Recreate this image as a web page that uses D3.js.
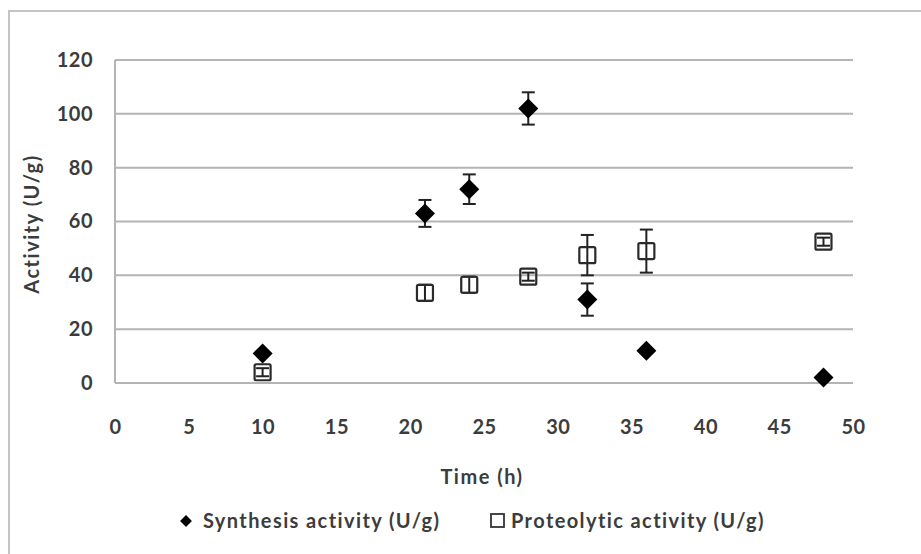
<!DOCTYPE html>
<html>
<head>
<meta charset="utf-8">
<script src="https://cdn.jsdelivr.net/npm/d3@7"></script>
<style>
  body { margin: 0; background: #fff; }
  text { font-family: Lato, "Open Sans", sans-serif; fill: #3c3c3c; font-weight: bold; }
</style>
</head>
<body>
<div id="chart"></div>
<script>
// Datos
const times = [10, 21, 24, 28, 32, 36, 48];
const synthesis = [11, 63, 72, 102, 31, 12, 2];
const synthesisErr = [0, 5, 5.5, 6, 6, 0, 0];
const proteolytic = [4, 33.5, 36.5, 39.5, 47.5, 49, 52.5];
const proteolyticErr = [1.5, 3, 3, 1.5, 7.5, 8, 1.5];
const xTicks = [0, 5, 10, 15, 20, 25, 30, 35, 40, 45, 50];
const yTicks = [0, 20, 40, 60, 80, 100, 120];

const width = 921, height = 554;
const svg = d3.select("#chart").append("svg")
    .attr("width", width)
    .attr("height", height);

// Borde exterior
svg.append("rect")
    .attr("x", 9).attr("y", 11)
    .attr("width", 940).attr("height", 600)
    .attr("fill", "none")
    .attr("stroke", "#c4c4c4")
    .attr("stroke-width", 2);

const x = d3.scaleLinear().domain([0, 50]).range([115, 853]);
const y = d3.scaleLinear().domain([0, 120]).range([383, 60]);

// Líneas de la cuadrícula
svg.append("g")
    .selectAll("line")
    .data(yTicks)
    .enter().append("line")
    .attr("x1", x(0)).attr("x2", x(50))
    .attr("y1", d => y(d)).attr("y2", d => y(d))
    .attr("stroke", "#b4b4b4")
    .attr("stroke-width", 2);

svg.append("line")
    .attr("x1", x(0)).attr("x2", x(0))
    .attr("y1", y(0)).attr("y2", y(120))
    .attr("stroke", "#b4b4b4")
    .attr("stroke-width", 2);

// Ejes
const yAxis = svg.append("g")
    .attr("transform", `translate(${x(0)},0)`)
    .call(d3.axisLeft(y).tickValues(yTicks).tickSize(0).tickPadding(22));
yAxis.select(".domain").remove();
yAxis.selectAll("text").style("font-size", "20px").style("letter-spacing", "0.5px").attr("fill", null);

const xAxis = svg.append("g")
    .attr("transform", `translate(0,${y(0)})`)
    .call(d3.axisBottom(x).tickValues(xTicks).tickSize(0).tickPadding(37));
xAxis.select(".domain").remove();
xAxis.selectAll("text").style("font-size", "20px").style("letter-spacing", "0.5px").attr("fill", null);

// Títulos de los ejes
svg.append("text")
    .attr("x", 482).attr("y", 484)
    .attr("text-anchor", "middle")
    .style("font-size", "20px")
    .style("letter-spacing", "1.5px")
    .text("Time (h)");

svg.append("text")
    .attr("transform", "translate(39,224) rotate(-90)")
    .attr("text-anchor", "middle")
    .style("font-size", "20px")
    .style("letter-spacing", "1.5px")
    .text("Activity (U/g)");

// Barras de error
function errorBars(vals, errs, cls) {
    const g = svg.append("g").attr("class", cls);
    times.forEach((t, i) => {
        if (!errs[i]) return;
        const cx = x(t), y1 = y(vals[i] + errs[i]), y2 = y(vals[i] - errs[i]);
        g.append("line").attr("x1", cx).attr("x2", cx).attr("y1", y1).attr("y2", y2);
        g.append("line").attr("x1", cx - 6.5).attr("x2", cx + 6.5).attr("y1", y1).attr("y2", y1);
        g.append("line").attr("x1", cx - 6.5).attr("x2", cx + 6.5).attr("y1", y2).attr("y2", y2);
    });
    g.selectAll("line").attr("stroke", "#222").attr("stroke-width", 2);
}
errorBars(proteolytic, proteolyticErr, "err-p");
errorBars(synthesis, synthesisErr, "err-s");

// Puntos
svg.append("g")
    .selectAll("rect")
    .data(times)
    .enter().append("rect")
    .attr("x", (d, i) => x(d) - 8)
    .attr("y", (d, i) => y(proteolytic[i]) - 8)
    .attr("width", 16).attr("height", 16)
    .attr("rx", 1.5)
    .attr("fill", "none")
    .attr("stroke", "#2a2a2a")
    .attr("stroke-width", 2.2);

svg.append("g")
    .selectAll("path")
    .data(times)
    .enter().append("path")
    .attr("d", d3.symbol(d3.symbolSquare, 200))
    .attr("transform", (d, i) => `translate(${x(d)},${y(synthesis[i])}) rotate(45)`)
    .attr("fill", "#000");

// Leyenda
const legend = svg.append("g").attr("transform", "translate(0,521)");
legend.append("path")
    .attr("d", d3.symbol(d3.symbolSquare, 70))
    .attr("transform", "translate(186,0) rotate(45)")
    .attr("fill", "#000");
legend.append("text")
    .attr("x", 203).attr("y", 7)
    .style("font-size", "20px")
    .style("letter-spacing", "1.4px")
    .text("Synthesis activity (U/g)");
legend.append("rect")
    .attr("x", 491).attr("y", -7)
    .attr("width", 13).attr("height", 13)
    .attr("fill", "none")
    .attr("stroke", "#333")
    .attr("stroke-width", 1.8);
legend.append("text")
    .attr("x", 511).attr("y", 7)
    .style("font-size", "20px")
    .style("letter-spacing", "1.4px")
    .text("Proteolytic activity (U/g)");
</script>
</body>
</html>
